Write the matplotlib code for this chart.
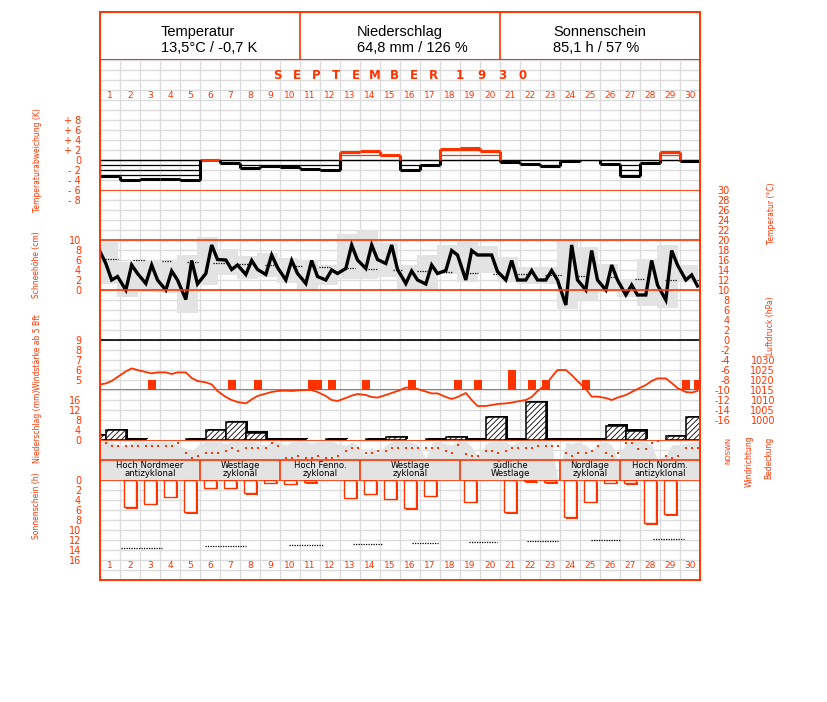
import numpy as np
import matplotlib
matplotlib.use("Agg")
import matplotlib.pyplot as plt
import matplotlib.patheffects as pe
from matplotlib import font_manager as fm

W, H = 827, 702
RED = "#ff3300"
GREY = "#e3e3e3"
GRIDC = "#dcdcdc"

# ---------------- data (September 1930) ----------------
days = np.arange(1, 31)
obs_hours = [7, 14, 21]

header_titles = ["Temperatur", "Niederschlag", "Sonnenschein"]
header_values = ["13,5°C / -0,7 K", "64,8 mm / 126 %", "85,1 h / 57 %"]

# daily temperature deviation (K)
temp_dev = [-3.2, -4.0, -3.7, -3.7, -4.1, 0.1, -0.5, -1.5, -1.2, -1.3,
            -1.7, -2.0, 1.7, 1.9, 1.1, -1.9, -0.9, 2.3, 2.5, 1.9,
            -0.4, -0.8, -1.1, -0.2, 0.0, -0.8, -3.1, -0.5, 1.6, -0.1]

# temperature at 7, 14, 21 h (°C), previous evening first
temp_start = 18.7
temp_obs = [15.3, 12.0, 12.7,  10.0, 15.0, 13.3,  11.3, 15.0, 12.0,
            10.0, 13.8, 12.0,  8.1, 15.9, 11.2,   13.3, 19.0, 16.1,
            16.0, 14.1, 15.0,  13.1, 15.9, 14.1,  13.1, 17.0, 14.5,
            12.0, 15.9, 13.3,  11.3, 15.9, 12.7,  12.0, 14.0, 13.3,
            14.3, 19.0, 16.0,  14.3, 19.0, 16.1,  15.3, 19.0, 14.1,
            11.3, 13.8, 12.0,  11.2, 15.0, 13.3,  13.9, 17.9, 17.0,
            12.0, 17.9, 17.0,  17.0, 17.0, 13.7,  12.0, 15.9, 12.0,
            12.0, 13.9, 12.0,  12.0, 13.9, 12.0,  7.0, 19.0, 12.0,
            10.0, 17.9, 12.0,  10.0, 15.0, 12.0,  9.0, 11.0, 9.0,
            9.0, 15.9, 11.0,   8.0, 17.9, 15.0,   12.0, 13.0, 10.8]

temp_max = [19.7, 15.7, 16.0, 15.7, 17.0, 20.7, 18.3, 16.8, 17.5, 16.5,
            16.0, 15.0, 21.2, 22.0, 19.5, 15.0, 17.0, 19.0, 19.7, 18.8,
            16.7, 14.7, 14.7, 20.0, 18.7, 15.3, 12.3, 16.3, 19.0, 15.0]
temp_min = [11.3, 8.7, 9.7, 9.5, 5.5, 11.0, 13.0, 12.3, 12.7, 11.5,
            10.0, 11.0, 12.3, 12.3, 12.7, 10.0, 10.3, 13.3, 11.7, 13.5,
            11.7, 11.3, 11.3, 6.3, 8.0, 9.7, 8.7, 6.8, 6.5, 11.7]

# long-term mean temperature, dotted pieces (day from, day to, °C)
tnorm_from = [0.25, 1.65, 3.1, 4.35, 5.65, 6.95, 8.25, 9.65, 10.95, 12.35, 13.4, 14.65,
              15.83, 17.17, 18.33, 19.67, 20.92, 22.25, 23.92, 25.42, 26.75, 28.25, 29.83]
tnorm_to = [0.9, 2.25, 3.6, 4.9, 6.25, 7.4, 8.75, 10.15, 11.5, 12.75, 13.9, 15.15,
            16.42, 17.67, 18.92, 20.17, 21.33, 23.08, 24.42, 25.92, 27.25, 28.83, 30.0]
tnorm_val = [16.3, 16.1, 15.9, 15.7, 15.5, 15.3, 15.1, 14.9, 14.7, 14.5, 14.3, 14.1,
             13.9, 13.7, 13.5, 13.3, 13.2, 13.0, 12.8, 12.7, 12.3, 12.1, 12.0]

# wind force >= 5 Bft
wind_day = [3, 7, 8, 11, 11, 12, 14, 16, 18, 19, 21, 22, 23, 25, 30, 30]
wind_hour = [14, 14, 21, 14, 21, 14, 7, 14, 21, 21, 14, 14, 7, 7, 7, 21]
wind_bft = [5, 5, 5, 5, 5, 5, 5, 5, 5, 5, 6, 5, 5, 5, 5, 5]

# air pressure (hPa) at 7, 14, 21 h
pressure_start = 1017.5
pressure = [1018.3, 1019.5, 1021.5,  1024.3, 1025.8, 1025.0,  1024.0, 1023.3, 1023.8,
            1023.8, 1023.0, 1023.8,  1023.8, 1021.0, 1019.5,  1018.8, 1017.8, 1014.5,
            1011.5, 1010.0, 1009.0,  1008.3, 1010.3, 1012.0,  1013.2, 1014.0, 1014.5,
            1014.7, 1014.5, 1014.8,  1015.0, 1015.0, 1014.0,  1012.0, 1010.0, 1009.5,
            1011.0, 1012.2, 1013.0,  1012.5, 1011.5, 1011.2,  1012.5, 1013.5, 1014.5,
            1016.2, 1016.3, 1015.5,  1014.2, 1013.3, 1013.3,  1011.5, 1010.5, 1011.5,
            1013.5, 1010.0, 1007.0,  1007.0, 1007.5, 1008.0,  1008.3, 1008.7, 1009.3,
            1010.0, 1011.5, 1014.5,  1017.5, 1021.5, 1025.0,  1025.0, 1022.5, 1019.5,
            1015.5, 1011.7, 1011.7,  1011.0, 1010.0, 1011.2,  1012.5, 1014.0, 1015.5,
            1017.5, 1019.5, 1020.8,  1020.8, 1018.5, 1016.0,  1014.0, 1013.7, 1014.5]

# precipitation (mm), measured 7 h to 7 h
precip_prev = 2.0
precip = [4.0, 0.2, 0.0, 0.0, 0.2, 4.0, 7.0, 2.9, 0.2, 0.2,
          0.0, 0.2, 0.0, 0.2, 1.1, 0.0, 0.2, 1.1, 0.2, 9.1,
          0.2, 15.1, 0.2, 0.2, 0.2, 5.7, 3.7, 0.0, 1.4, 9.1]

# cloud cover (octas) at 7, 14, 21 h
cloud = [7.7, 7.6, 7.0,  6.9, 7.6, 7.7,  7.6, 7.7, 7.6,  7.7, 7.7, 7.1,  6.3, 5.7, 6.9,
         7.7, 7.7, 7.6,  7.3, 7.7, 7.7,  7.6, 7.7, 7.3,  6.9, 7.7, 7.6,  7.0, 7.6, 7.7,
         7.7, 7.3, 7.7,  7.7, 7.7, 7.3,  6.9, 7.6, 7.0,  5.0, 6.7, 5.3,  7.0, 7.6, 7.7,
         7.7, 7.6, 7.1,  4.3, 7.3, 7.7,  7.3, 7.0, 7.7,  7.7, 6.7, 4.7,  7.3, 7.7, 7.6,
         7.6, 7.0, 7.6,  7.7, 7.7, 7.7,  7.6, 7.5, 0.0,  7.5, 7.3, 7.6,  7.0, 5.7, 7.3,
         7.6, 7.0, 4.3,  7.3, 7.7, 7.7,  7.6, 7.0, 4.0,  5.0, 7.0, 7.1,  7.3, 7.6, 7.6]

# wind direction (degrees) at 7, 14, 21 h
wind_dir = [305, 250, 250,  250, 250, 250,  250, 250, 250,  250, 250, 310,  135, 45, 72,
            135, 135, 135,  162, 222, 162,  222, 222, 222,  222, 305, 250,  45, 45, 72,
            45, 45, 72,     45, 45, 72,     162, 222, 222,  135, 135, 162,  162, 222, 222,
            222, 222, 222,  222, 222, 222,  162, 125, 262,  110, 72, 72,    162, 162, 132,
            162, 222, 222,  222, 222, 250,  250, 250, 250,  132, 72, 132,   132, 162, 250,
            132, 72, 132,   311, 311, 192,  205, 305, 345,  72, 45, 72,     222, 222, 222]

# sunshine (h) per day
sun = [0.0, 5.4, 4.7, 3.3, 6.4, 1.5, 1.5, 2.6, 0.5, 0.7,
       0.4, 0.0, 3.5, 2.7, 3.7, 5.6, 3.1, 0.0, 4.3, 0.0,
       6.4, 0.2, 0.4, 7.4, 4.3, 0.5, 0.6, 8.6, 6.8, 0.0]

# astronomically possible sunshine, dotted pieces
sunmax_from = [1.03, 5.25, 9.45, 12.63, 15.58, 18.45, 21.33, 24.53, 27.63]
sunmax_to = [3.11, 7.3, 11.2, 14.08, 16.9, 19.83, 22.92, 26.0, 29.2]
sunmax_val = [13.5, 13.2, 13.0, 12.8, 12.6, 12.4, 12.2, 12.0, 11.8]

# weather types
wt_first = [1, 6, 10, 14, 19, 24, 27]
wt_last = [5, 9, 13, 18, 23, 26, 30]
wt_line1 = ["Hoch Nordmeer", "Westlage", "Hoch Fenno.", "Westlage", "südliche", "Nordlage", "Hoch Nordm."]
wt_line2 = ["antizyklonal", "zyklonal", "zyklonal", "zyklonal", "Westlage", "zyklonal", "antizyklonal"]

# ---------------- drawing ----------------
plt.rcParams["axes.unicode_minus"] = False
plt.rcParams["hatch.linewidth"] = 0.6
plt.rcParams["hatch.color"] = "black"

names = {f.name for f in fm.fontManager.ttflist}
narrow = "Liberation Sans Narrow" if "Liberation Sans Narrow" in names else "DejaVu Sans"
label_size = 6.8 if narrow != "DejaVu Sans" else 5.5

obs_x = np.array([(d - 1) + h / 24 for d in days for h in obs_hours])
prev_x = -3 / 24

fig = plt.figure(figsize=(W / 100, H / 100), dpi=100)


def panel(top, bottom, left=100, right=700):
    ax = fig.add_axes([left / W, 1 - bottom / H, (right - left) / W, (bottom - top) / H])
    ax.set_xlim(0, 30)
    ax.patch.set_visible(False)
    for s in ax.spines.values():
        s.set_visible(False)
    ax.set_xticks([])
    ax.set_yticks([])
    ax.tick_params(axis="y", length=0, labelsize=7, labelcolor=RED)
    return ax


def right_labels(ax, pad_px):
    ax.yaxis.tick_right()
    ax.tick_params(axis="y", pad=pad_px * 0.72)
    for t in ax.get_yticklabels():
        t.set_horizontalalignment("right")


# grid background
bg = panel(60, 580)
bg.set_ylim(580, 60)
bg.set_xticks(range(31))
bg.set_yticks(range(60, 581, 10))
bg.grid(True, color=GRIDC, lw=1)
bg.tick_params(length=0, labelbottom=False, labelleft=False)

# temperature (right scale)
ax_t = panel(190, 420)
ax_t.set_ylim(-16, 30)
ax_t.bar(days - 1.15, np.array(temp_max) - np.array(temp_min), bottom=temp_min,
         width=1.07, align="edge", color=GREY, lw=0)
ax_t.hlines(tnorm_val, tnorm_from, tnorm_to, colors="black", lw=0.9, linestyles=(0, (1, 1)))
ax_t.plot(np.r_[prev_x, obs_x], np.r_[temp_start, temp_obs], color="black", lw=2.4,
          solid_joinstyle="miter")
for lev in (30, 20, 10):
    ax_t.axhline(lev, color=RED, lw=1.2)
ax_t.axhline(0, color="black", lw=1.2)
ax_t.set_yticks(range(-16, 31, 2))
right_labels(ax_t, 30)

# snow depth scale
ax_s = panel(240, 290)
ax_s.set_ylim(0, 10)
ax_s.set_yticks(range(0, 11, 2))
ax_s.tick_params(axis="y", pad=19 * 0.72)

# temperature deviation
ax_dev = panel(120, 200)
ax_dev.set_ylim(-8, 8)
ax_dev.axhline(0, color="black", lw=1)
for i, v in enumerate(temp_dev):
    col = RED if v > 0 else "black"
    sgn = 1 if v > 0 else -1
    for j in range(1, int(abs(v)) + 1):
        ax_dev.hlines(sgn * j, i, i + 1, colors=col, lw=0.9)
    if v != 0:
        ax_dev.hlines(v, i, i + 1, colors=col, lw=2.2)
for b in range(1, 30):
    lo, hi = sorted((temp_dev[b - 1], temp_dev[b]))
    if lo < 0:
        ax_dev.vlines(b, lo, min(hi, 0), colors="black", lw=2.2)
    if hi > 0:
        ax_dev.vlines(b, max(lo, 0), hi, colors=RED, lw=2.2)
ax_dev.set_yticks(range(-8, 9, 2))
ax_dev.set_yticklabels([("+ %d" % t) if t > 0 else ("- %d" % -t) if t < 0 else "0"
                        for t in range(-8, 9, 2)])
ax_dev.tick_params(axis="y", pad=19 * 0.72)

# wind force
ax_w = panel(340, 390)
ax_w.set_ylim(4, 9)
wx = [d - 1 + h / 24 for d, h in zip(wind_day, wind_hour)]
ax_w.bar(wx, np.array(wind_bft) - 4, bottom=4, width=0.4, color=RED, lw=0)
ax_w.axhline(4, color=RED, lw=1.2)
ax_w.set_yticks(range(5, 10))
ax_w.tick_params(axis="y", pad=19 * 0.72)

# air pressure
ax_p = panel(360, 420)
ax_p.set_ylim(1000, 1030)
ax_p.plot(np.r_[prev_x, obs_x], np.r_[pressure_start, pressure], color=RED, lw=1.3)
ax_p.set_yticks(range(1000, 1031, 5))
right_labels(ax_p, 75)

# precipitation
ax_r = panel(400, 440)
ax_r.set_ylim(0, 16)
px = np.r_[-1, days - 1] + 7 / 24
pv = np.r_[precip_prev, precip]
keep = pv > 0
ax_r.bar(px[keep], pv[keep], width=1, align="edge", facecolor="white", edgecolor="black",
         lw=1.1, hatch="//////",
         path_effects=[pe.SimplePatchShadow(offset=(1.4, 1.0), shadow_rgbFace="black", alpha=1),
                       pe.Normal()])
ax_r.set_yticks(range(0, 17, 4))
ax_r.tick_params(axis="y", pad=19 * 0.72)

# cloud cover + weather types
ax_c = panel(440, 480)
ax_c.set_ylim(0, 8)
ax_c.fill_between(np.r_[0, obs_x, 30], np.r_[cloud[0], cloud, cloud[-1]], 0, color=GREY, lw=0)
ax_c.axhline(8, color=RED, lw=1.2)
ax_c.axhline(4, color=RED, lw=1.2)
ax_c.vlines(np.array(wt_last[:-1]), 0, 4, colors=RED, lw=1.2)
for a, b, l1, l2 in zip(wt_first, wt_last, wt_line1, wt_line2):
    xc = (a - 1 + b) / 2
    ax_c.text(xc, 2.95, l1, ha="center", va="center", fontsize=6.1, color="black")
    ax_c.text(xc, 1.2, l2, ha="center", va="center", fontsize=6.1, color="black")

# wind direction
ax_d = panel(440, 460)
ax_d.set_ylim(0, 360)
ax_d.scatter(obs_x, wind_dir, marker="s", s=4, color=RED, lw=0, clip_on=False)

# sunshine
ax_sun = panel(480, 560)
ax_sun.set_ylim(16, 0)
sun_a = np.array(sun)
has = sun_a > 0
ax_sun.bar(days[has] - 0.5, sun_a[has], width=0.63, facecolor="white", edgecolor=RED, lw=1,
           path_effects=[pe.SimplePatchShadow(offset=(1.4, -1.4), shadow_rgbFace=RED, alpha=1),
                         pe.Normal()])
ax_sun.hlines(sunmax_val, sunmax_from, sunmax_to, colors="black", lw=0.9, linestyles=(0, (1, 1)))
ax_sun.axhline(0, color=RED, lw=1.2)
ax_sun.set_yticks(range(0, 17, 2))
ax_sun.tick_params(axis="y", pad=19 * 0.72)

# day numbers and month title
for d in days:
    bg.text(d - 0.5, 96, str(d), ha="center", va="center", fontsize=6.5, color=RED)
    bg.text(d - 0.5, 566, str(d), ha="center", va="center", fontsize=6.5, color=RED)
for i, ch in enumerate("SEPTEMBER"):
    bg.text((277.5 + 19.5 * i - 100) / 20, 75.5, ch, ha="center", va="center",
            fontsize=8.5, fontweight="bold", color=RED)
for j, ch in enumerate("1930"):
    bg.text((460 + 21 * j - 100) / 20, 75.5, ch, ha="center", va="center",
            fontsize=8.5, fontweight="bold", color=RED)

# header
head = panel(12, 60)
head.set_ylim(60, 12)
head.vlines([10, 20], 12, 60, colors=RED, lw=1.2)
for k, (t, v) in enumerate(zip(header_titles, header_values)):
    x0 = 3.05 + 9.8 * k
    head.text(x0, 32, t, ha="left", va="center", fontsize=10.5, family="Liberation Sans")
    head.text(x0, 48.5, v, ha="left", va="center", fontsize=10.5, family="Liberation Sans")
head.axhline(60, color=RED, lw=1.5)

# outer frame
frame = panel(12, 580)
for s in frame.spines.values():
    s.set_visible(True)
    s.set_color(RED)
    s.set_linewidth(1.4)

# axis titles
def vtext(x, y, s, size=label_size, fam=narrow):
    fig.text(x / W, 1 - y / H, s, rotation=90, ha="center", va="center",
             fontsize=size, color=RED, family=fam)

vtext(37, 160, "Temperaturabweichung (K)")
vtext(37, 265, "Schneehöhe (cm)")
vtext(37, 352, "Windstärke ab 5 Bft")
vtext(37, 426, "Niederschlag (mm)")
vtext(37, 506, "Sonnenschein (h)")
vtext(771, 213, "Temperatur (°C)")
vtext(771, 326, "Luftdruck (hPa)")
vtext(749, 461, "Windrichtung")
vtext(769, 458, "Bedeckung")
vtext(728, 450, "NOSWN", size=5, fam="DejaVu Sans")

fig.savefig("out.png", dpi=100)
